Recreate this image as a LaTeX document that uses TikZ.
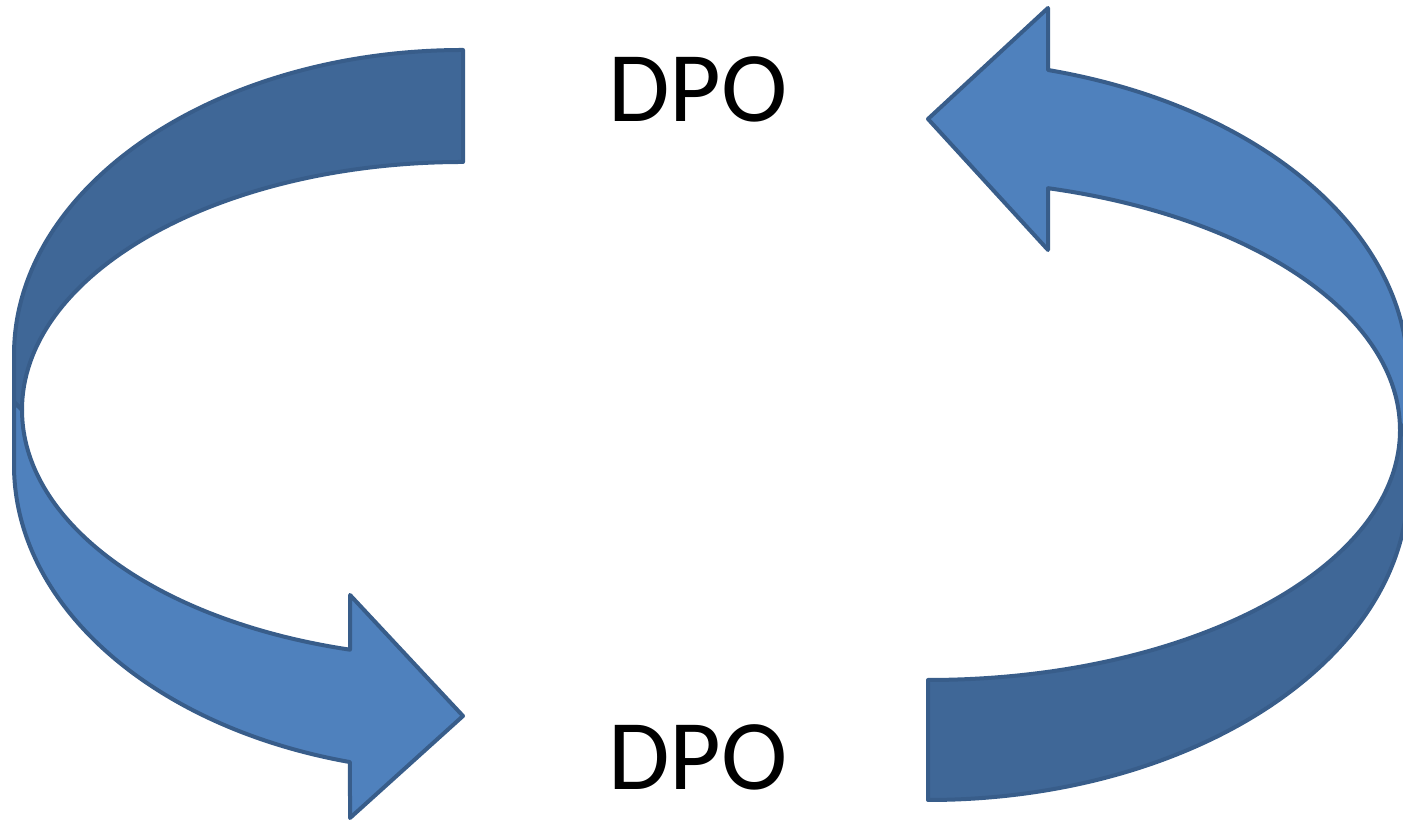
\documentclass[tikz,border=0pt]{standalone}
\usepackage{fontspec}
\setmainfont{Carlito}
\definecolor{bandLight}{HTML}{4F81BD}
\definecolor{bandDark}{HTML}{3F6797}
\definecolor{bandLine}{HTML}{385D8A}
\begin{document}
\begin{tikzpicture}[x=0.5pt,y=0.5pt,
    back/.style={fill=bandDark, draw=bandLine, line width=2pt, line join=round},
    front/.style={fill=bandLight, draw=bandLine, line width=2pt, line join=round},
    label/.style={font=\fontsize{50}{60}\selectfont, inner sep=0pt}]
    \useasboundingbox (0,0) rectangle (1403,822);
    % Left arrow, back side of the band
    \draw[back] (463,772) arc[start angle=90, end angle=180, x radius=449, y radius=305]
        -- (14,420) -- (22,412)
        arc[start angle=180, end angle=90, x radius=441, y radius=248] -- cycle;
    % Left arrow, front side with the head
    \draw[front] (22,412) -- (14,420) -- (14,357)
        arc[start angle=180, end angle=255.42, x radius=449, y radius=307]
        -- (350,4) -- (463,106) -- (350,227) -- (350,172.3)
        arc[start angle=255.15, end angle=180, x radius=441, y radius=248] -- cycle;
    % Right arrow, back side of the band
    \draw[back] (928,22) arc[start angle=270, end angle=360, x radius=480, y radius=315]
        -- (1408,382) -- (1400,392)
        arc[start angle=0, end angle=-90, x radius=472, y radius=250] -- cycle;
    % Right arrow, front side with the head
    \draw[front] (1400,392) -- (1408,402) -- (1408,447)
        arc[start angle=0, end angle=75.52, x radius=480, y radius=315]
        -- (1048,814) -- (928,703) -- (1048,572) -- (1048,633.8)
        arc[start angle=75.27, end angle=0, x radius=472, y radius=250] -- cycle;
    % Labels
    \node[label] (dpoTop) at (698,733) {DPO};
    \node[label] (dpoBottom) at (698,65) {DPO};
\end{tikzpicture}
\end{document}
